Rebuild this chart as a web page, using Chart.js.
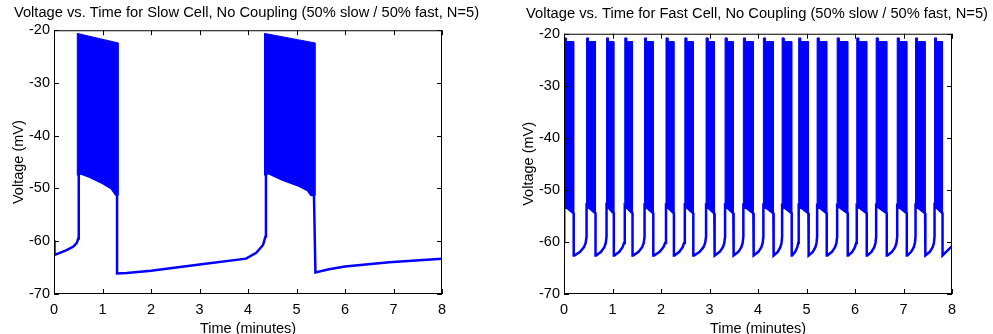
<!DOCTYPE html>
<html>
<head>
<meta charset="utf-8">
<script src="https://cdn.jsdelivr.net/npm/chart.js@4.4.1/dist/chart.umd.min.js"></script>
<style>
  html, body { margin: 0; padding: 0; background: #fff; overflow: hidden; width: 993px; height: 334px; }
  #slow { position: absolute; left: 0; top: 0; }
  #fast { position: absolute; left: 521px; top: 0; }
</style>
</head>
<body>
<canvas id="slow" width="493" height="345"></canvas>
<canvas id="fast" width="472" height="345"></canvas>
<script>
// ---- slow cell: membrane trace (minutes, mV)
const slowT = [0, 0.01, 0.12, 0.26, 0.40, 0.47, 0.50, 0.51, 0.535, 0.74, 1.01, 1.19, 1.28, 1.30, 1.30, 1.50, 2.00, 3.00, 3.96, 4.17, 4.31, 4.36, 4.37, 4.40, 4.71, 5.06, 5.23, 5.30, 5.36, 5.39, 5.67, 6.00, 6.91, 8.00];
const slowV = [-59.8, -62.6, -62.2, -61.7, -61.0, -60.3, -59.5, -47.5, -47.1, -47.8, -49.0, -50.0, -51.2, -51.3, -66.1, -66.0, -65.6, -64.4, -63.3, -62.2, -60.7, -59.1, -47.5, -47.0, -48.3, -49.5, -50.3, -51.2, -51.3, -65.9, -65.3, -64.8, -64.0, -63.3];
// slow cell bursts: spike peaks (upper envelope) and spike troughs (lower envelope)
const slowBurstTopT = [[0.48, 1.32], [4.34, 5.38]];
const slowBurstTopV = [[-20.6, -22.4], [-20.6, -22.4]];
const slowBurstLowT = [[0.48, 0.535, 0.74, 1.01, 1.19, 1.28, 1.32], [4.34, 4.40, 4.71, 5.06, 5.23, 5.30, 5.38]];
const slowBurstLowV = [[-47.5, -47.1, -47.8, -49.0, -50.0, -51.2, -51.3], [-47.5, -47.0, -48.3, -49.5, -50.3, -51.2, -51.3]];

// ---- fast cell: burst onsets / ends (minutes)
const fastOn  = [0.005, 0.465, 0.877, 1.253, 1.661, 2.103, 2.491, 2.929, 3.321, 3.698, 4.111, 4.497, 4.839, 5.219, 5.632, 6.036, 6.436, 6.870, 7.248, 7.640];
const fastOff = [0.200, 0.650, 1.027, 1.413, 1.841, 2.266, 2.666, 3.099, 3.491, 3.904, 4.317, 4.695, 5.039, 5.417, 5.850, 6.242, 6.655, 7.068, 7.445, 7.805];
const fastPeakV = -20.8;      // first spike of each burst
const fastPlateauV = -21.5;   // remaining spikes
const fastLowV = [-53.0, -54.5];   // spike troughs at burst start / end
const fastStartV = -59.8;
const fastEnd = [8, -60.8];
// inter-burst recovery, as fraction of the gap and voltage
const fastRecF = [0, 0.06, 0.5, 0.8, 0.93, 1];
const fastRecV = [-62.6, -62.6, -61.9, -61.0, -60.2, -59.0];

const xTicks = [0, 1, 2, 3, 4, 5, 6, 7, 8];
const yTicks = [-70, -60, -50, -40, -30, -20];

const BLUE = '#0000ff';
const FONT = '"Liberation Sans", Arial, Helvetica, sans-serif';
Chart.defaults.font.family = FONT;
Chart.defaults.font.size = 14.5;
Chart.defaults.color = '#000';

// matlab style box with inward ticks on every side
const boxTicks = {
  id: 'boxTicks',
  afterDraw(chart) {
    const { ctx, chartArea: a, scales: { x, y } } = chart;
    const L = 5;
    ctx.save();
    ctx.strokeStyle = '#000';
    ctx.lineWidth = 1;
    ctx.strokeRect(a.left + 0.5, a.top + 0.5, a.right - a.left - 1, a.bottom - a.top - 1);
    ctx.beginPath();
    x.ticks.forEach(t => {
      const px = Math.round(x.getPixelForValue(t.value)) + 0.5;
      ctx.moveTo(px, a.bottom); ctx.lineTo(px, a.bottom - L);
      ctx.moveTo(px, a.top); ctx.lineTo(px, a.top + L);
    });
    y.ticks.forEach(t => {
      const py = Math.round(y.getPixelForValue(t.value)) + 0.5;
      ctx.moveTo(a.left, py); ctx.lineTo(a.left + L, py);
      ctx.moveTo(a.right, py); ctx.lineTo(a.right - L, py);
    });
    ctx.stroke();
    ctx.restore();
  }
};

function traceSet(points) {
  return { data: points, borderColor: BLUE, borderWidth: 2.5, pointRadius: 0, fill: false, tension: 0 };
}
function burstSet(points) {
  return { data: points, borderColor: BLUE, backgroundColor: BLUE, borderWidth: 1, pointRadius: 0, fill: 'shape', tension: 0 };
}

function makeChart(id, datasets, o) {
  return new Chart(document.getElementById(id), {
    type: 'line',
    data: { datasets },
    options: {
      responsive: false,
      animation: false,
      devicePixelRatio: 1,
      events: [],
      layout: { padding: 0 },
      plugins: {
        legend: { display: false },
        tooltip: { enabled: false },
        title: {
          display: true, text: o.title, color: '#000',
          font: { size: 14.7, weight: 'normal' },
          padding: { top: o.titleTop, bottom: o.titleBottom }
        }
      },
      scales: {
        x: {
          type: 'linear', min: 0, max: 8,
          afterBuildTicks: s => { s.ticks = xTicks.map(v => ({ value: v })); },
          ticks: { padding: 7, color: '#000' },
          grid: { display: false, drawTicks: false },
          border: { display: false },
          title: { display: true, text: 'Time (minutes)', color: '#000', padding: { top: 0, bottom: 7 } },
          afterFit: s => { s.height = 51; }
        },
        y: {
          type: 'linear', min: -70, max: -20,
          afterBuildTicks: s => { s.ticks = yTicks.map(v => ({ value: v })); },
          ticks: { padding: 4, color: '#000' },
          grid: { display: false, drawTicks: false },
          border: { display: false },
          title: { display: true, text: 'Voltage (mV)', color: '#000', padding: { top: o.yTitle, bottom: 0 } },
          afterFit: s => { s.width = o.yWidth; }
        },
        // empty right-hand margin so the title can use the whole canvas width
        yRight: {
          type: 'linear', position: 'right', display: true,
          ticks: { display: false },
          grid: { display: false, drawTicks: false },
          border: { display: false },
          afterFit: s => { s.width = o.rightWidth; }
        }
      }
    },
    plugins: [boxTicks]
  });
}

// ---- slow chart datasets
const slowSets = [traceSet(slowT.map((t, i) => ({ x: t, y: slowV[i] })))];
slowBurstTopT.forEach((tops, b) => {
  const pts = tops.map((t, i) => ({ x: t, y: slowBurstTopV[b][i] }));
  for (let i = slowBurstLowT[b].length - 1; i >= 0; i--) pts.push({ x: slowBurstLowT[b][i], y: slowBurstLowV[b][i] });
  pts.push(pts[0]);
  slowSets.push(burstSet(pts));
});

// ---- fast chart datasets
const fastTrace = [{ x: 0, y: fastStartV }];
const fastSets = [];
fastOn.forEach((on, i) => {
  const off = fastOff[i];
  fastTrace.push({ x: on, y: fastRecV[fastRecV.length - 1] }, { x: on, y: fastLowV[0] }, { x: off, y: fastLowV[1] });
  const next = fastOn[i + 1];
  if (next !== undefined) {
    fastRecF.forEach((f, k) => fastTrace.push({ x: off + f * (next - off), y: fastRecV[k] }));
  } else {
    fastTrace.push({ x: off, y: fastRecV[0] }, { x: fastEnd[0], y: fastEnd[1] });
  }
  const notch = on + 0.04;
  fastSets.push(burstSet([
    { x: on, y: fastLowV[0] }, { x: on, y: fastPeakV }, { x: notch, y: fastPeakV },
    { x: notch, y: fastPlateauV }, { x: off, y: fastPlateauV }, { x: off, y: fastLowV[1] },
    { x: on, y: fastLowV[0] }
  ]));
});
fastSets.unshift(traceSet(fastTrace));

makeChart('slow', slowSets, {
  title: 'Voltage vs. Time for Slow Cell, No Coupling (50% slow / 50% fast, N=5)',
  rightWidth: 51, titleTop: 4.3, titleBottom: 8.3, yTitle: 9.8, yWidth: 54
});
makeChart('fast', fastSets, {
  title: 'Voltage vs. Time for Fast Cell, No Coupling (50% slow / 50% fast, N=5)',
  rightWidth: 41, titleTop: 5.3, titleBottom: 10.8, yTitle: -1.2, yWidth: 43
});
</script>
</body>
</html>
